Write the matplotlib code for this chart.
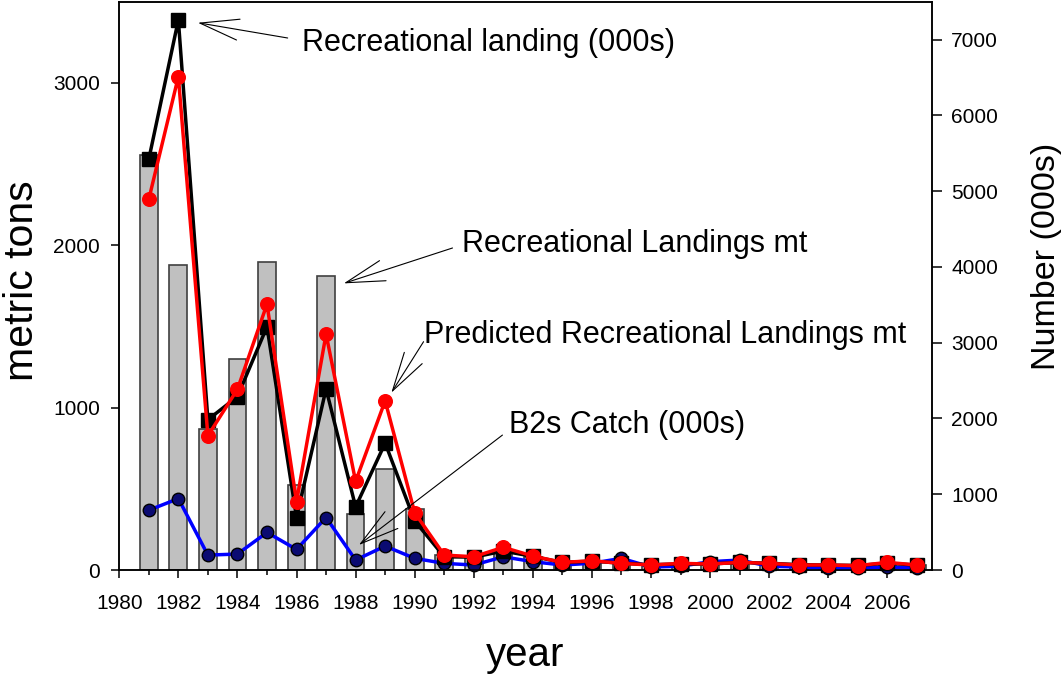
import matplotlib
matplotlib.use('Agg')
import matplotlib.pyplot as plt
from matplotlib.ticker import MultipleLocator

plt.rcParams['font.family'] = ['Liberation Sans', 'DejaVu Sans']

years = list(range(1981, 2008))

# recreational landings in metric tons (bars, left axis)
landings_mt = [2555, 1878, 868, 1301, 1898, 525, 1810, 345, 620, 374,
               92, 80, 123, 82, 45, 40, 50, 25, 30, 30, 35, 30, 25, 20, 20, 25, 31]
# predicted recreational landings in metric tons (left axis)
predicted_mt = [2283, 3038, 827, 1113, 1637, 421, 1453, 546, 1042, 353,
                92, 82, 140, 86, 47, 57, 41, 31, 41, 37, 47, 41, 31, 31, 27, 47, 31]
# recreational landings in numbers, thousands (right axis)
landing_num = [5421, 7259, 1983, 2289, 3210, 693, 2390, 833, 1675, 649,
               175, 170, 250, 180, 100, 118, 90, 70, 80, 80, 100, 90, 70, 65, 60, 90, 65]
# B2 catch in numbers, thousands (right axis)
b2_num = [789, 943, 197, 211, 496, 272, 693, 132, 316, 154,
          88, 66, 175, 110, 66, 90, 154, 40, 50, 110, 132, 50, 40, 25, 25, 40, 25]

fig = plt.figure(figsize=(10.62, 6.77), dpi=100)
ax = fig.add_axes([0.1123, 0.158, 0.765, 0.8396])

ax.bar(years, landings_mt, width=0.6, color='#c0c0c0', edgecolor='#404040',
       linewidth=1.2, zorder=2)
ax.set_xlim(1980, 2007.5)
ax.set_ylim(0, 3500)
ax.set_xticks(range(1980, 2007, 2))
ax.xaxis.set_minor_locator(MultipleLocator(1))
ax.set_yticks([0, 1000, 2000, 3000])

# numbers on the right axis
ax2 = ax.twinx()
ax2.plot(years, b2_num, color='#0000ff', lw=2.5, marker='o', ms=9,
         mfc='#0b0b72', mec='black', mew=1, clip_on=False)
ax2.plot(years, landing_num, color='black', lw=2.5, marker='s', ms=9.6,
         clip_on=False)
ax2.set_ylim(0, 7500)
ax2.set_yticks(range(0, 7001, 1000))

# predicted mt drawn on top, same scale as the left axis
ax3 = ax.twinx()
ax3.plot(years, predicted_mt, color='red', lw=2.5, marker='o', ms=9.8,
         mfc='red', mec='red', clip_on=False)
ax3.set_xlim(1980, 2007.5)
ax3.set_ylim(0, 3500)
ax3.axis('off')

for a in (ax, ax2):
    for s in a.spines.values():
        s.set_linewidth(1.1)

ax.tick_params(axis='x', which='major', length=6, width=1.1, pad=11, labelsize=15)
ax.tick_params(axis='x', which='minor', length=3.6, width=1.1)
ax.tick_params(axis='y', length=6, width=1.1, pad=8, labelsize=15)
ax2.tick_params(axis='y', length=7, width=1.1, pad=7, labelsize=15)

ax.set_xlabel('year', fontsize=29)
ax.xaxis.label.set_va('baseline')
ax.xaxis.set_label_coords(0.5, -0.169)

ax.set_ylabel('metric tons', fontsize=29.5)
ax.yaxis.label.set_va('baseline')
ax.yaxis.set_label_coords(-0.106, 0.509)

ax2.set_ylabel('Number (000s)', fontsize=24.5)
ax2.yaxis.label.set_va('baseline')
ax2.yaxis.set_label_coords(1.152, 0.551)

arrow = dict(arrowstyle='->,head_length=2.8,head_width=0.76', mutation_scale=10,
             lw=0.8, color='black', shrinkA=0, shrinkB=0)

ax3.annotate('', xy=(1982.66, 3370), xytext=(1985.70, 3276), arrowprops=arrow)
ax3.text(1986.2, 3198, 'Recreational landing (000s)', fontsize=22, va='baseline')

ax3.annotate('', xy=(1987.60, 1765), xytext=(1991.28, 1983), arrowprops=arrow)
ax3.text(1991.6, 1960, 'Recreational Landings mt', fontsize=22, va='baseline')

ax3.annotate('', xy=(1989.21, 1092), xytext=(1990.30, 1406), arrowprops=arrow)
ax3.text(1990.3, 1396, 'Predicted Recreational Landings mt', fontsize=22, va='baseline')

ax3.annotate('', xy=(1988.11, 154), xytext=(1992.97, 831), arrowprops=arrow)
ax3.text(1993.2, 844, 'B2s Catch (000s)', fontsize=22, va='baseline')

fig.savefig('out.png', dpi=100)
